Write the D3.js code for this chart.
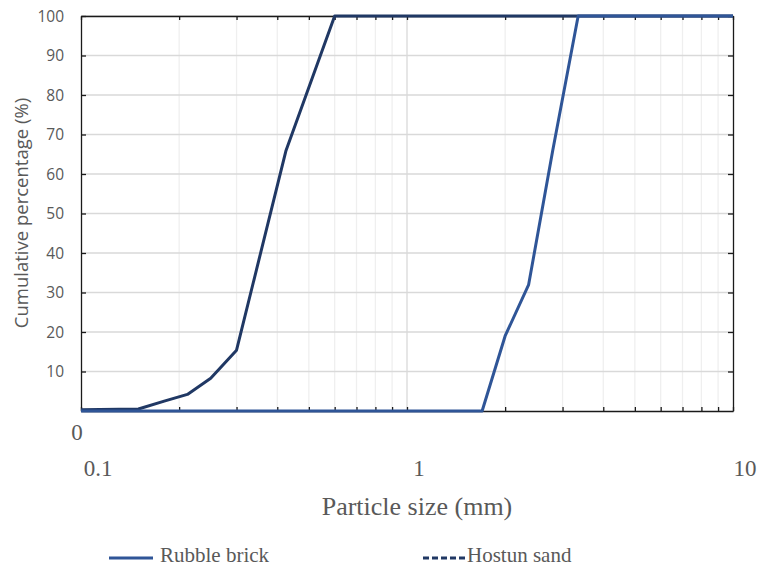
<!DOCTYPE html>
<html><head><meta charset="utf-8">
<script src="https://cdn.jsdelivr.net/npm/d3@7"></script>
<style>body{margin:0;background:#fff}svg{display:block}</style>
</head><body>
<svg id="chart" width="761" height="567"></svg>
<script>
// ---- data ----
const hostunSize = [0.1, 0.15, 0.18, 0.212, 0.25, 0.3, 0.425, 0.6, 10];
const hostunPct  = [0.3, 0.5, 2.5, 4.2, 8.3, 15.4, 65.8, 100, 100];
const rubbleSize = [0.1, 1.7, 2.0, 2.36, 2.8, 3.35, 10];
const rubblePct  = [0, 0, 19, 31.9, 66, 100, 100];
const yTickValues = [10, 20, 30, 40, 50, 60, 70, 80, 90, 100];
const xTickLabels = [0.1, 1, 10];
const seriesNames = ["Rubble brick", "Hostun sand"];

const svg = d3.select("#chart");
const m = {l: 81, t: 16, r: 28, b: 156};
const W = 761 - m.l - m.r, H = 567 - m.t - m.b;
const g = svg.append("g").attr("transform", `translate(${m.l},${m.t})`);

const x = d3.scaleLog().domain([0.1, 10]).range([0, W]);
const y = d3.scaleLinear().domain([0, 100]).range([H, 0]);

const allTicks = x.ticks(); // 0.1..10 incl minor
const minorTicks = allTicks.filter(v => ![0.1, 1, 10].some(M => Math.abs(v - M) < 1e-9));

// vertical gridlines
g.append("g").selectAll("line").data(minorTicks).join("line")
  .attr("x1", d => x(d)).attr("x2", d => x(d)).attr("y1", 0).attr("y2", H)
  .attr("stroke", "#efefef").attr("stroke-width", 1.3);
g.append("line").attr("x1", x(1)).attr("x2", x(1)).attr("y1", 0).attr("y2", H)
  .attr("stroke", "#d9d9d9").attr("stroke-width", 1.3);
// horizontal gridlines
g.append("g").selectAll("line").data(yTickValues).join("line")
  .attr("x1", 0).attr("x2", W).attr("y1", d => y(d)).attr("y2", d => y(d))
  .attr("stroke", "#d9d9d9").attr("stroke-width", 1.3);

// frame axes with inward ticks
const axB = d3.axisBottom(x).tickValues(allTicks).tickSizeInner(-4).tickSizeOuter(0).tickFormat("");
const axT = d3.axisTop(x).tickValues(allTicks).tickSizeInner(-4).tickSizeOuter(0).tickFormat("");
const axL = d3.axisLeft(y).tickValues(yTickValues).tickSizeInner(-5).tickSizeOuter(0).tickFormat("");
const axR = d3.axisRight(y).tickValues(yTickValues).tickSizeInner(-5).tickSizeOuter(0).tickFormat("");
function styleAx(sel){ sel.selectAll("path,line").attr("stroke", "#1a1a1a").attr("stroke-width", 1.3); }
g.append("g").attr("transform", `translate(0,${H})`).call(axB).call(styleAx);
g.append("g").call(axT).call(styleAx);
g.append("g").call(axL).call(styleAx);
g.append("g").attr("transform", `translate(${W},0)`).call(axR).call(styleAx);

// y tick labels
g.append("g").selectAll("text").data(yTickValues).join("text")
  .attr("x", -17).attr("y", d => y(d)).attr("dy", "0.36em")
  .attr("text-anchor", "end").attr("font-family", "Open Sans").attr("font-size", 15.5)
  .attr("fill", "#595959").text(d => d);
// "0" label
g.append("text").attr("x", -4).attr("y", H + 29).attr("text-anchor", "middle")
  .attr("font-family", "Liberation Serif").attr("font-size", 23).attr("fill", "#595959").text("0");
// x tick labels
g.append("g").selectAll("text").data(xTickLabels).join("text")
  .attr("x", d => x(d) + (d === 0.1 ? 17 : 12)).attr("y", H + 65).attr("text-anchor", "middle")
  .attr("font-family", "Liberation Serif").attr("font-size", 23).attr("fill", "#595959").text(d => d);

// axis titles
svg.append("text").attr("x", 417).attr("y", 515).attr("text-anchor", "middle")
  .attr("font-family", "Liberation Serif").attr("font-size", 26).attr("fill", "#595959")
  .text("Particle size (mm)");
svg.append("text").attr("transform", "translate(28,213) rotate(-90)").attr("text-anchor", "middle")
  .attr("font-family", "Open Sans").attr("font-size", 18.5).attr("fill", "#595959")
  .text("Cumulative percentage (%)");

// lines
const line = d3.line().x(d => x(d[0])).y(d => y(d[1]));
const hostun = hostunSize.map((s, i) => [s, hostunPct[i]]);
const rubble = rubbleSize.map((s, i) => [s, rubblePct[i]]);
g.append("path").datum(hostun).attr("d", line).attr("fill", "none")
  .attr("stroke", "#203864").attr("stroke-width", 3).attr("stroke-linejoin", "round");
g.append("path").datum(rubble).attr("d", line).attr("fill", "none")
  .attr("stroke", "#2f5597").attr("stroke-width", 3).attr("stroke-linejoin", "round");

// legend
const lg = svg.append("g");
lg.append("line").attr("x1", 109).attr("x2", 153).attr("y1", 558).attr("y2", 558)
  .attr("stroke", "#2f5597").attr("stroke-width", 3);
lg.append("text").attr("x", 160).attr("y", 562).attr("font-family", "Liberation Serif")
  .attr("font-size", 21).attr("fill", "#595959").text(seriesNames[0]);
lg.append("line").attr("x1", 423).attr("x2", 466).attr("y1", 558).attr("y2", 558)
  .attr("stroke", "#203864").attr("stroke-width", 3).attr("stroke-dasharray", "6,3");
lg.append("text").attr("x", 467).attr("y", 562).attr("font-family", "Liberation Serif")
  .attr("font-size", 21).attr("fill", "#595959").text(seriesNames[1]);
</script>
</body></html>
